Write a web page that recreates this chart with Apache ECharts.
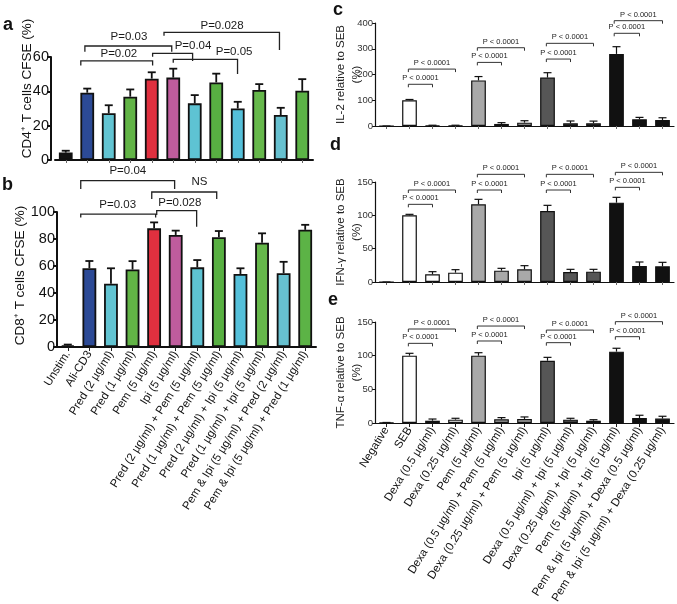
<!DOCTYPE html>
<html><head><meta charset="utf-8">
<script src="https://cdn.jsdelivr.net/npm/echarts@6/dist/echarts.min.js"></script>
<style>html,body{margin:0;padding:0;background:#fff}#chart{width:677px;height:604px}</style>
</head><body><div id="chart"></div>
<script>
// ---------- DATA ----------
const catsAB = ['Unstim.', 'Ali-CD3', 'Pred (2 µg/ml)', 'Pred (1 µg/ml)', 'Pem (5 µg/ml)', 'Ipi (5 µg/ml)',
  'Pred (2 µg/ml) + Pem (5 µg/ml)', 'Pred (1 µg/ml) + Pem (5 µg/ml)', 'Pred (2 µg/ml) + Ipi (5 µg/ml)',
  'Pred (1 µg/ml) + Ipi (5 µg/ml)', 'Pem & Ipi (5 µg/ml) + Pred (2 µg/ml)', 'Pem & Ipi (5 µg/ml) + Pred (1 µg/ml)'];
const cd4Mean = [4.3, 39.2, 27.2, 36.9, 47.4, 48.0, 33.0, 45.2, 30.0, 40.8, 26.2, 40.3];
const cd4Err  = [1.1, 2.4, 4.7, 4.2, 3.7, 5.2, 4.8, 5.1, 3.9, 3.4, 4.2, 6.8];
const cd8Mean = [1.2, 58.3, 46.8, 57.4, 87.9, 83.0, 59.0, 81.3, 54.1, 77.3, 54.6, 86.8];
const cd8Err  = [0.6, 5.4, 11.5, 6.2, 4.4, 3.2, 5.4, 4.6, 4.2, 6.9, 8.5, 3.7];

const catsCDE = ['Negative', 'SEB', 'Dexa (0.5 µg/ml)', 'Dexa (0.25 µg/ml)', 'Pem (5 µg/ml)',
  'Dexa (0.5 µg/ml) + Pem (5 µg/ml)', 'Dexa (0.25 µg/ml) + Pem (5 µg/ml)', 'Ipi (5 µg/ml)',
  'Dexa (0.5 µg/ml) + Ipi (5 µg/ml)', 'Dexa (0.25 µg/ml) + Ipi (5 µg/ml)', 'Pem (5 µg/ml) + Ipi (5 µg/ml)',
  'Pem & Ipi (5 µg/ml) + Dexa (0.5 µg/ml)', 'Pem & Ipi (5 µg/ml) + Dexa (0.25 µg/ml)'];
const il2Mean  = [0, 100, 2, 2, 177, 8, 13, 188, 10.5, 10.5, 280, 26, 23.5];
const il2Err   = [0, 3, 1, 1, 15, 5, 7.5, 19, 9, 8.5, 28, 7.5, 8.5];
const ifngMean = [0, 100, 11.5, 14, 116.5, 17, 19, 106.5, 15, 15.5, 119, 24, 23.5];
const ifngErr  = [0, 1.5, 4, 4.5, 7.5, 3.5, 5.5, 8.5, 4, 3.5, 8, 6, 6];
const tnfaMean = [0.5, 100, 3.4, 5, 100, 5.5, 6, 92.5, 5, 3.4, 106, 7.5, 6.5];
const tnfaErr  = [0.3, 3.5, 2.5, 2, 4.4, 2.5, 3, 5, 2, 1.5, 5, 4, 3.5];

// significance brackets: [text, fromIdx, toIdx, top, leftEnd, rightEnd, labelIdx, labelValue]
const bracketsA = [
  ['P=0.03', 0.89, 4.93, 66.4, 63.1, 63.1, 2.94, 71.8],
  ['P=0.02', 0.70, 4.04, 57.7, 55.1, 55.1, 2.47, 62.1],
  ['P=0.04', 4.04, 5.90, 62.1, 60.2, 57.7, 5.92, 66.6],
  ['P=0.05', 5.00, 7.99, 58.6, 56.7, 50.1, 7.83, 63.1],
  ['P=0.028', 4.57, 9.94, 74.4, 72.4, 64.1, 7.27, 78.0]
];
const bracketsB = [
  ['P=0.04', 0.60, 4.95, 123.3, 117.0, 117.0, 2.78, 130.4],
  ['NS', 3.89, 6.90, 114.8, 109.6, 109.6, 6.10, 122.0],
  ['P=0.03', 0.60, 4.07, 98.5, 96.0, 96.0, 2.31, 105.2],
  ['P=0.028', 4.12, 5.97, 101.0, 97.8, 89.1, 5.19, 106.9]
];
// [fromIdx, toIdx, top]
const bracketsC = [[0.95, 2, 162], [0.95, 3, 221], [3.95, 5, 247], [3.95, 6, 304], [6.95, 8, 260], [6.95, 9, 321], [9.9, 11, 360], [9.9, 12, 409]];
const bracketsD = [[0.95, 2, 116.5], [0.95, 3, 138], [3.95, 5, 138], [3.95, 6, 161.5], [6.95, 8, 138], [6.95, 9, 161.5], [9.95, 11, 142], [9.95, 12, 164.5]];
const bracketsE = [[0.95, 2, 118.3], [0.95, 3, 139.6], [3.95, 5, 121.8], [3.95, 6, 144], [6.95, 8, 119.3], [6.95, 9, 138], [9.95, 11, 128.2], [9.95, 12, 150.5]];
const pText = 'P < 0.0001';

// ---------- STYLE ----------
const FONT = "'Liberation Sans', Arial, Helvetica, sans-serif";
const colorsAB = ['#121212', '#2c4a96', '#62c4d2', '#62b446', '#e0303f', '#bf5c9d', '#5ec3d3', '#58b042', '#55c0da', '#66b84b', '#67c1d0', '#5cb346'];
const colorsCDE = ['#ffffff', '#ffffff', '#ffffff', '#ffffff', '#a9a9a9', '#a9a9a9', '#a9a9a9', '#565656', '#565656', '#565656', '#111111', '#111111', '#111111'];

function errRender(width, hw) {
  return function (params, api) {
    const x = api.value(0), y = api.value(1), e = api.value(2);
    const p0 = api.coord([x, y]), p1 = api.coord([x, y + e]);
    const st = { stroke: '#111', lineWidth: width };
    return { type: 'group', children: [
      { type: 'line', shape: { x1: p0[0], y1: p0[1], x2: p1[0], y2: p1[1] }, style: st },
      { type: 'line', shape: { x1: p1[0] - hw, y1: p1[1], x2: p1[0] + hw, y2: p1[1] }, style: st }
    ] };
  };
}
function bracketRenderAB(list, fs) {
  return function (params, api) {
    const b = list[params.dataIndex];
    const o = api.coord([0, 0]), band = api.size([1, 0])[0];
    const X = i => o[0] + i * band;
    const Y = v => api.coord([0, v])[1];
    return { type: 'group', children: [
      { type: 'polyline', shape: { points: [[X(b[1]), Y(b[4])], [X(b[1]), Y(b[3])], [X(b[2]), Y(b[3])], [X(b[2]), Y(b[5])]] },
        style: { stroke: '#222', lineWidth: 1.3, fill: null } },
      { type: 'text', style: { text: b[0], x: X(b[6]), y: Y(b[7]), align: 'center', verticalAlign: 'middle', font: fs + 'px ' + FONT, fill: '#1a1a1a' } }
    ] };
  };
}
function bracketRenderCDE(list) {
  return function (params, api) {
    const b = list[params.dataIndex];
    const o = api.coord([0, 0]), band = api.size([1, 0])[0];
    const X = i => o[0] + i * band;
    const yt = api.coord([0, b[2]])[1];
    return { type: 'group', children: [
      { type: 'polyline', shape: { points: [[X(b[0]), yt + 3], [X(b[0]), yt], [X(b[1]), yt], [X(b[1]), yt + 3]] },
        style: { stroke: '#333', lineWidth: 1, fill: null } },
      { type: 'text', style: { text: pText, x: (X(b[0]) + X(b[1])) / 2, y: yt - 6, align: 'center', verticalAlign: 'middle', font: '7.5px ' + FONT, fill: '#222' } }
    ] };
  };
}

const grids = [
  { left: 55, top: 57, width: 258, height: 103 },
  { left: 57, top: 212, width: 259, height: 135 },
  { left: 375, top: 23, width: 299, height: 103 },
  { left: 375, top: 182, width: 299, height: 100 },
  { left: 375, top: 322, width: 299, height: 101 }
].map(g => Object.assign({ containLabel: false, outerBoundsMode: 'none' }, g));

function xAx(gi, cats, big, showLabels) {
  return {
    type: 'category', gridIndex: gi, data: cats,
    axisLine: { lineStyle: { color: '#111', width: big ? 2 : 1.2 } },
    axisTick: { show: true, alignWithLabel: true, length: showLabels ? 4 : 3, lineStyle: { color: showLabels ? '#222' : '#666', width: 1 } },
    axisLabel: { show: showLabels, rotate: 58, fontSize: 11.5, margin: 5, color: '#111', fontFamily: FONT, interval: 0 },
    splitLine: { show: false }
  };
}
function yAx(gi, max, interval, name, big, gap, extra, pad) {
  return Object.assign({
    type: 'value', gridIndex: gi, min: 0, max: max, interval: interval,
    axisLine: { show: true, lineStyle: { color: '#111', width: big ? 2 : 1.2 } },
    axisTick: { show: true, length: big ? 4 : 3, lineStyle: { color: '#111', width: big ? 2 : 1 } },
    axisLabel: { fontSize: big ? 14.5 : 9.5, color: big ? '#111' : '#333', margin: big ? 2 : 2, fontFamily: FONT },
    splitLine: { show: false },
    name: name, nameLocation: 'middle', nameGap: gap, nameMoveOverlap: false,
    nameTextStyle: big ? { fontSize: 13.5, color: '#111', fontFamily: FONT, padding: pad || 0 }
                       : { fontSize: 11.5, color: '#222', fontFamily: FONT, lineHeight: 16 }
  }, extra || {});
}
function barSeries(i, cats, mean, colors, big) {
  return {
    type: 'bar', xAxisIndex: i, yAxisIndex: i, barWidth: '64%',
    data: mean.map((v, k) => ({ value: v, itemStyle: { color: colors[k] } })),
    itemStyle: { borderColor: '#111', borderWidth: big ? 1.8 : 1.2 }, z: 2, silent: true
  };
}
function errSeries(i, mean, err, big) {
  return {
    type: 'custom', xAxisIndex: i, yAxisIndex: i, z: 3, silent: true,
    renderItem: errRender(big ? 1.8 : 1.2, 4),
    data: mean.map((v, k) => [k, v, err[k]])
  };
}
function brSeries(i, list, render) {
  return { type: 'custom', xAxisIndex: i, yAxisIndex: i, z: 4, silent: true, clip: false,
    renderItem: render, data: list.map(() => [0, 0]) };
}

const option = {
  backgroundColor: '#fff',
  animation: false,
  textStyle: { fontFamily: FONT },
  grid: grids,
  xAxis: [
    xAx(0, catsAB, true, false),
    xAx(1, catsAB, true, true),
    xAx(2, catsCDE, false, false),
    xAx(3, catsCDE, false, false),
    xAx(4, catsCDE, false, true)
  ],
  yAxis: [
    yAx(0, 60, 20, 'CD4⁺ T cells CFSE (%)', true, 17, { offset: 4 }, [0, 0, 0, 40]),
    yAx(1, 100, 20, 'CD8⁺ T cells CFSE (%)', true, 30, null, [0, 0, 0, 8]),
    yAx(2, 400, 100, 'IL-2 relative to SEB\n(%)', false, 10),
    yAx(3, 150, 50, 'IFN-γ relative to SEB\n(%)', false, 10),
    yAx(4, 150, 50, 'TNF-α relative to SEB\n(%)', false, 10)
  ],
  series: [
    barSeries(0, catsAB, cd4Mean, colorsAB, true), errSeries(0, cd4Mean, cd4Err, true), brSeries(0, bracketsA, bracketRenderAB(bracketsA, 11.5)),
    barSeries(1, catsAB, cd8Mean, colorsAB, true), errSeries(1, cd8Mean, cd8Err, true), brSeries(1, bracketsB, bracketRenderAB(bracketsB, 11.5)),
    barSeries(2, catsCDE, il2Mean, colorsCDE, false), errSeries(2, il2Mean, il2Err, false), brSeries(2, bracketsC, bracketRenderCDE(bracketsC)),
    barSeries(3, catsCDE, ifngMean, colorsCDE, false), errSeries(3, ifngMean, ifngErr, false), brSeries(3, bracketsD, bracketRenderCDE(bracketsD)),
    barSeries(4, catsCDE, tnfaMean, colorsCDE, false), errSeries(4, tnfaMean, tnfaErr, false), brSeries(4, bracketsE, bracketRenderCDE(bracketsE))
  ],
  graphic: [
    { type: 'text', left: 3, top: 16, style: { text: 'a', font: 'bold 18px ' + FONT, fill: '#111' } },
    { type: 'text', left: 2, top: 176, style: { text: 'b', font: 'bold 18px ' + FONT, fill: '#111' } },
    { type: 'text', left: 333, top: 1, style: { text: 'c', font: 'bold 18px ' + FONT, fill: '#111' } },
    { type: 'text', left: 330, top: 136, style: { text: 'd', font: 'bold 18px ' + FONT, fill: '#111' } },
    { type: 'text', left: 328, top: 291, style: { text: 'e', font: 'bold 18px ' + FONT, fill: '#111' } }
  ]
};
const chart = echarts.init(document.getElementById('chart'), null, { renderer: 'canvas' });
chart.setOption(option);
</script></body></html>
